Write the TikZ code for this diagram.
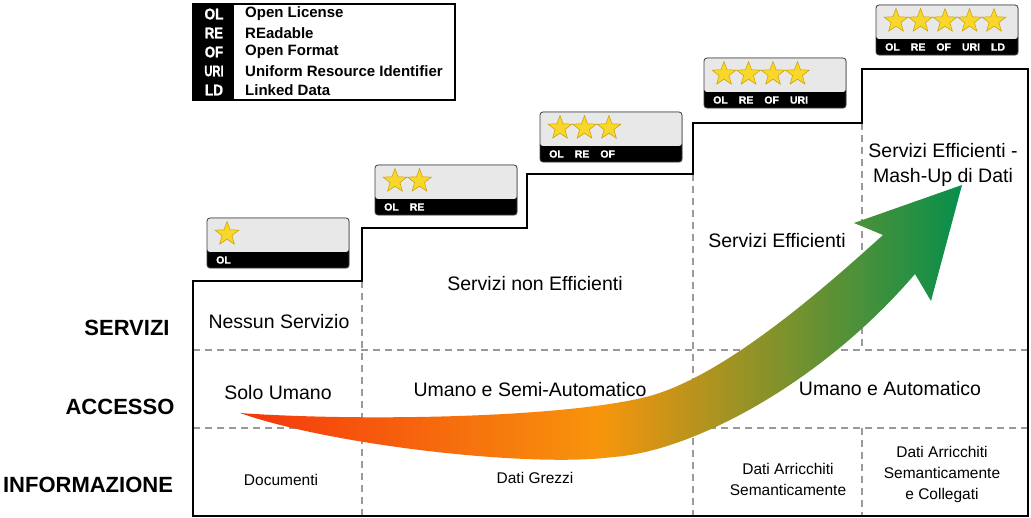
\documentclass[tikz,border=0pt]{standalone}
\usepackage{fontspec}
\setmainfont{Liberation Sans}
\newfontfamily\heavysans{Liberation Sans}[BoldFeatures={FakeBold=1.2}]
\usetikzlibrary{shapes.geometric,shadows}
\definecolor{boxgray}{HTML}{E8E8E8}
\definecolor{dashgray}{HTML}{9A9A9A}
\definecolor{starfill}{HTML}{F8D62A}
\definecolor{stardraw}{HTML}{C9A000}
\definecolor{arrred}{HTML}{F5360E}
\definecolor{arrorange}{HTML}{F7950C}
\definecolor{arrgreen}{HTML}{068F4C}
\newcommand\bsep{\hspace{11pt}}
\newcommand\mkstarbox[5]{%
  \node[starbox] (#1) at (#2+71,#3+25) {};
  \foreach \k in {1,...,#4} \node[goldstar] (#1s\k) at (#2+20+24.5*\k-24.5,#3+16) {};
  \node[bandlabel] (#1l) at (#2+9,#3+42) {#5};
}
\tikzset{
  starbox/.style={rectangle, rounded corners=3pt, minimum width=142pt, minimum height=50pt,
    draw=black!75, line width=0.8pt, fill=black, inner sep=0pt,
    drop shadow={shadow xshift=0.6pt, shadow yshift=-0.8pt, opacity=0.3},
    path picture={\fill[boxgray] (path picture bounding box.north west) rectangle ([yshift=16pt]path picture bounding box.south east);}},
  goldstar/.style={star, star points=5, star point ratio=2.4, minimum size=25pt, inner sep=0pt,
    fill=starfill, draw=stardraw, line width=0.5pt},
  bandlabel/.style={anchor=west, text=white, inner sep=0pt, font=\fontsize{10.5}{12}\heavysans\bfseries},
  legendbox/.style={rectangle, minimum width=262pt, minimum height=96pt, draw=black, line width=1.4pt,
    fill=white, inner sep=0pt, drop shadow={shadow xshift=0.8pt, shadow yshift=-1pt, opacity=0.35}},
  legab/.style={text=white, inner sep=0pt, font=\fontsize{15.5}{18}\heavysans\bfseries},
  legtxt/.style={anchor=west, inner sep=0pt, font=\fontsize{15}{18}\selectfont\bfseries},
  outline/.style={draw=black, line width=1.5pt, line join=miter},
  gridline/.style={draw=dashgray, line width=1.2pt, dash pattern=on 7pt off 5pt},
  rowlabel/.style={inner sep=0pt, font=\fontsize{22}{26}\selectfont\bfseries},
  celltext/.style={inner sep=0pt, align=center, font=\fontsize{19.5}{25}\selectfont},
  smalltext/.style={inner sep=0pt, align=center, font=\fontsize{15.5}{21}\selectfont},
}
\begin{document}
\begin{tikzpicture}[x=1pt,y=-1pt]
\useasboundingbox (0,0) rectangle (1031,518);
\fill[white] (0,0) rectangle (1031,518);

% grid (dashed)
\draw[gridline] (193,350) -- (1028,350);
\draw[gridline] (193,428) -- (1028,428);
\draw[gridline] (362,281) -- (362,516);
\draw[gridline] (693,174) -- (693,516);
\draw[gridline] (862,123) -- (862,350);
\draw[gridline] (862,428) -- (862,516);

% staircase outline
\draw[outline] (193,281) -- (193,516) -- (1028,516) -- (1028,69) -- (862,69) -- (862,123)
  -- (693,123) -- (693,174) -- (527,174) -- (527,228) -- (362,228) -- (362,281) -- cycle;

% row labels
\node[rowlabel] (lserv) at (127,328) {SERVIZI};
\node[rowlabel] (lacc) at (120,407) {ACCESSO};
\node[rowlabel] (linfo) at (88,485) {INFORMAZIONE};

% cell texts
\node[celltext] (c11) at (279,322) {Nessun Servizio};
\node[celltext] (c12) at (535,284) {Servizi non Efficienti};
\node[celltext] (c13) at (777,241) {Servizi Efficienti};
\node[celltext] (c14) at (943,165) {Servizi Efficienti -\\Mash-Up di Dati};
\node[celltext] (c21) at (278,393) {Solo Umano};
\node[celltext] (c22) at (530,390) {Umano e Semi-Automatico};
\node[celltext] (c23) at (890,389) {Umano e Automatico};
\node[smalltext] (c31) at (281,480) {Documenti};
\node[smalltext] (c32) at (535,478) {Dati Grezzi};
\node[smalltext] (c33) at (788,479) {Dati Arricchiti\\Semanticamente};
\node[smalltext] (c34) at (942,474) {Dati Arricchiti\\Semanticamente\\e Collegati};

% big arrow
\shade[left color=arrred, right color=arrgreen, middle color=arrorange]
  (240,413) .. controls (350,421) and (556,419) .. (646,397)
  .. controls (726,377) and (833,280) .. (883,235)
  -- (854,223) -- (962,185) -- (931,301) -- (915,274)
  .. controls (820,385) and (690,452) .. (613,457)
  .. controls (530,468) and (330,445) .. (240,413) -- cycle;

% star boxes
\mkstarbox{sb1}{207}{218}{1}{OL}
\mkstarbox{sb2}{375}{165}{2}{OL\bsep RE}
\mkstarbox{sb3}{540}{112}{3}{OL\bsep RE\bsep OF}
\mkstarbox{sb4}{704}{58}{4}{OL\bsep RE\bsep OF\bsep URI}
\mkstarbox{sb5}{876}{5}{5}{OL\bsep RE\bsep OF\bsep URI\bsep LD}

% legend
\node[legendbox] (legend) at (324,52) {};
\fill[black] (legend.north west) rectangle ([xshift=42pt]legend.south west);
\draw[black, line width=1.4pt] (legend.north west) rectangle (legend.south east);
\node[legab] (ab1) at (214,14) {\scalebox{0.88}[1.0]{OL}};
\node[legab] (ab2) at (214,33) {\scalebox{0.85}[1.0]{RE}};
\node[legab] (ab3) at (214,52) {\scalebox{0.85}[1.0]{OF}};
\node[legab] (ab4) at (214,71) {\scalebox{0.72}[1.0]{URI}};
\node[legab] (ab5) at (214,90) {\scalebox{0.88}[1.0]{LD}};
\node[legtxt] (lt1) at (245,14) {Open License};
\node[legtxt] (lt2) at (245,33) {REadable};
\node[legtxt] (lt3) at (245,52) {Open Format};
\node[legtxt] (lt4) at (245,71) {Uniform Resource Identifier};
\node[legtxt] (lt5) at (245,90) {Linked Data};
\end{tikzpicture}
\end{document}
